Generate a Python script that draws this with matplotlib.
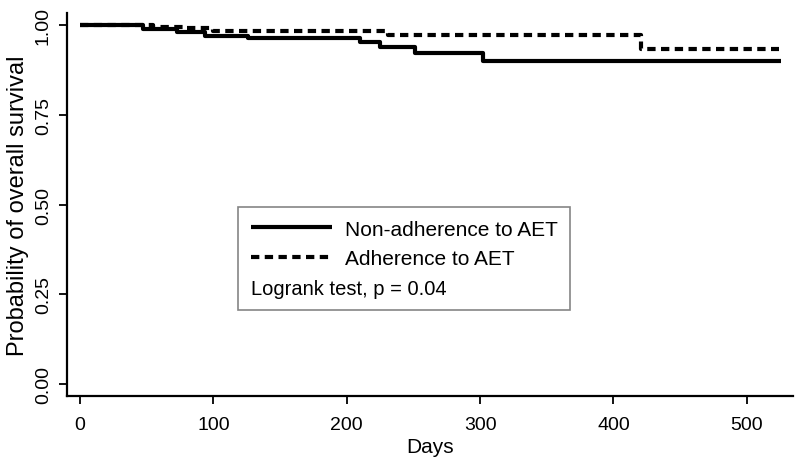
import matplotlib
matplotlib.use("Agg")
import matplotlib.pyplot as plt

# step times (days) and survival after each step
non_adh_days = [0, 47, 73, 94, 126, 210, 225, 251, 302, 526]
non_adh_surv = [1.0, 0.989, 0.980, 0.970, 0.964, 0.953, 0.938, 0.922, 0.898, 0.898]

adh_days = [0, 55, 80, 100, 231, 421, 524]
adh_surv = [1.0, 0.995, 0.990, 0.983, 0.971, 0.932, 0.932]

x_ticks = [0, 100, 200, 300, 400, 500]
y_ticks = [0.00, 0.25, 0.50, 0.75, 1.00]

labels = ["Non-adherence to AET", "Adherence to AET"]
note = "Logrank test, p = 0.04"

plt.rcParams["font.family"] = ["Liberation Sans", "DejaVu Sans"]

fig = plt.figure(figsize=(8, 4.64), dpi=100)
ax = fig.add_axes([0.084, 0.144, 0.907, 0.826])

ax.step(non_adh_days, non_adh_surv, where="post", color="black", lw=3.0,
        solid_capstyle="butt", label=labels[0])
ax.step(adh_days, adh_surv, where="post", color="black", lw=3.0,
        linestyle=(0, (2.0, 1.3)), label=labels[1])

ax.set_xlim(-9.7, 534.5)
ax.set_ylim(-0.033, 1.033)
ax.set_xticks(x_ticks)
ax.set_yticks(y_ticks)
ax.set_yticklabels([f"{v:.2f}" for v in y_ticks], rotation=90, va="center")
ax.tick_params(axis="both", direction="out", length=6, width=1.3,
               labelsize=14, colors="black")
ax.tick_params(axis="x", pad=8)
ax.tick_params(axis="y", pad=5)

for side in ["top", "right"]:
    ax.spines[side].set_visible(False)
for side in ["left", "bottom"]:
    ax.spines[side].set_linewidth(1.6)

ax.set_xlabel("Days", fontsize=15, labelpad=3)
ax.set_ylabel("Probability of overall survival", fontsize=17, labelpad=4)

# legend with the logrank note as an extra row
handles, hl = ax.get_legend_handles_labels()
blank = plt.Line2D([], [], color="none")
leg = ax.legend(handles + [blank], hl + [note], loc="upper left",
                bbox_to_anchor=(0.236, 0.493), fontsize=15, frameon=True,
                fancybox=False, edgecolor="#666666", handlelength=3.9,
                handletextpad=0.6, borderpad=0.6, labelspacing=0.5,
                borderaxespad=0)
leg.get_frame().set_linewidth(1.2)
# the note row has no handle: start its text at the handle position
leg.get_texts()[2].set_fontsize(14.5)
for h in leg.legend_handles[2:]:
    h.set_visible(False)
note_row = leg._legend_box.get_children()[1].get_children()[0].get_children()[2]
note_row.get_children()[0].set_width(0)
note_row.sep = 0

fig.savefig("out.png", dpi=100)
